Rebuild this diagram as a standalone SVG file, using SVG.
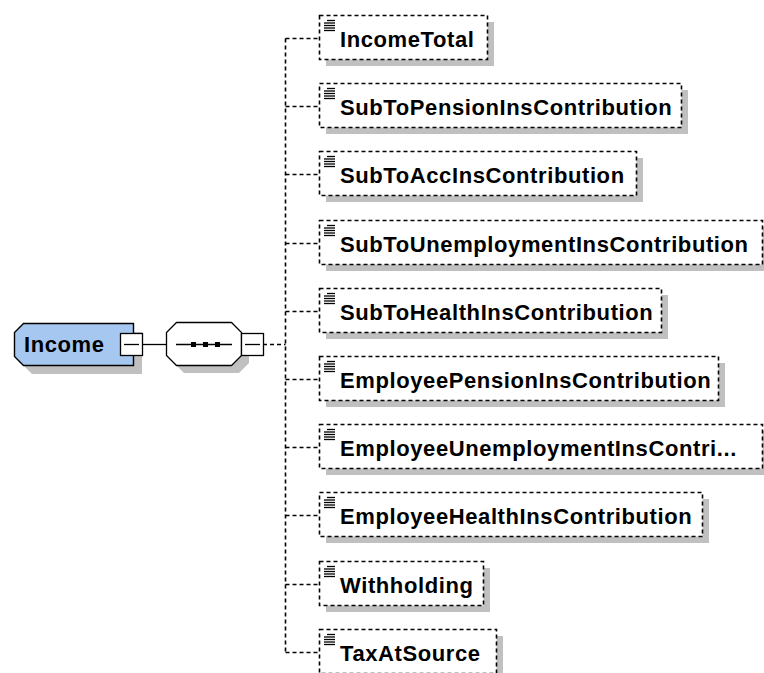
<svg xmlns="http://www.w3.org/2000/svg" width="764" height="673" viewBox="0 0 764 673">
<defs>
<style>
.t{font-family:"Liberation Sans",Arial,sans-serif;font-weight:bold;font-size:22px;letter-spacing:0.6px;fill:#000}
.box{fill:#fff;stroke:#000;stroke-width:1.6;stroke-dasharray:4 3}
.sh{fill:#c0c0c0}
.dash{fill:none;stroke:#000;stroke-width:1.6;stroke-dasharray:4 3}
.solid{fill:none;stroke:#000;stroke-width:1.3}
.ic{stroke:#000;stroke-width:1.3}
.mb{fill:#fff;stroke:#000;stroke-width:1.3}
</style>
<g id="icon">
<line class="ic" x1="327" y1="5.5" x2="335" y2="5.5"/>
<line class="ic" x1="324" y1="8" x2="335" y2="8"/>
<line class="ic" x1="324" y1="10.5" x2="335" y2="10.5"/>
<line class="ic" x1="324" y1="13" x2="335" y2="13"/>
<line class="ic" x1="324" y1="15.5" x2="335" y2="15.5"/>
</g>
</defs>
<rect width="764" height="673" fill="#fff"/>

<g id="connectors">
<line class="solid" x1="142" y1="344.5" x2="166" y2="344.5"/>
<line class="dash" x1="263" y1="344.5" x2="285.5" y2="344.5"/>
<line class="dash" x1="285.5" y1="38.5" x2="285.5" y2="652.5"/>
<line class="dash" x1="285.5" y1="38.5" x2="319" y2="38.5"/>
<line class="dash" x1="285.5" y1="106.5" x2="319" y2="106.5"/>
<line class="dash" x1="285.5" y1="174.5" x2="319" y2="174.5"/>
<line class="dash" x1="285.5" y1="243.5" x2="319" y2="243.5"/>
<line class="dash" x1="285.5" y1="311.5" x2="319" y2="311.5"/>
<line class="dash" x1="285.5" y1="379.5" x2="319" y2="379.5"/>
<line class="dash" x1="285.5" y1="447.5" x2="319" y2="447.5"/>
<line class="dash" x1="285.5" y1="515.5" x2="319" y2="515.5"/>
<line class="dash" x1="285.5" y1="584.5" x2="319" y2="584.5"/>
<line class="dash" x1="285.5" y1="652.5" x2="319" y2="652.5"/>
</g>

<g id="Income">
<polygon class="sh" points="32,332 142,332 142,374 32,374 23,365 23,341"/>
<polygon points="23.5,323.5 133.5,323.5 133.5,365.5 23.5,365.5 14.5,356.5 14.5,332.5" fill="#a6c8f0" stroke="#000" stroke-width="1.4"/>
<text class="t" x="24" y="352">Income</text>
<rect class="mb" x="120.5" y="333.5" width="22" height="22"/>
<line class="solid" x1="124" y1="344.5" x2="139" y2="344.5"/>
</g>

<g id="sequence">
<polygon class="sh" points="184,330 239,330 249,340 249,363 239,373 184,373 174,363 174,340"/>
<polygon points="176.5,322.5 231.5,322.5 241.5,332.5 241.5,355.5 231.5,365.5 176.5,365.5 166.5,355.5 166.5,332.5" fill="#fff" stroke="#000" stroke-width="1.3"/>
<line class="solid" x1="176" y1="344.5" x2="232" y2="344.5"/>
<rect x="191" y="342" width="5" height="5" fill="#000"/>
<rect x="203" y="342" width="5" height="5" fill="#000"/>
<rect x="215" y="342" width="5" height="5" fill="#000"/>
<rect class="mb" x="241.5" y="333.5" width="22" height="22"/>
<line class="solid" x1="245" y1="344.5" x2="260" y2="344.5"/>
</g>

<g id="IncomeTotal" transform="translate(0,15)">
<rect class="sh" x="326" y="7" width="168" height="44"/>
<rect class="box" x="319.5" y="0.5" width="168" height="44"/>
<use href="#icon"/>
<text class="t" x="340" y="32">IncomeTotal</text>
</g>
<g id="SubToPensionInsContribution" transform="translate(0,83)">
<rect class="sh" x="326" y="7" width="362" height="44"/>
<rect class="box" x="319.5" y="0.5" width="362" height="44"/>
<use href="#icon"/>
<text class="t" x="340" y="32">SubToPensionInsContribution</text>
</g>
<g id="SubToAccInsContribution" transform="translate(0,151)">
<rect class="sh" x="326" y="7" width="317" height="44"/>
<rect class="box" x="319.5" y="0.5" width="317" height="44"/>
<use href="#icon"/>
<text class="t" x="340" y="32">SubToAccInsContribution</text>
</g>
<g id="SubToUnemploymentInsContribution" transform="translate(0,220)">
<rect class="sh" x="326" y="7" width="443" height="44"/>
<rect class="box" x="319.5" y="0.5" width="443" height="44"/>
<use href="#icon"/>
<text class="t" x="340" y="32">SubToUnemploymentInsContribution</text>
</g>
<g id="SubToHealthInsContribution" transform="translate(0,288)">
<rect class="sh" x="326" y="7" width="342" height="44"/>
<rect class="box" x="319.5" y="0.5" width="342" height="44"/>
<use href="#icon"/>
<text class="t" x="340" y="32">SubToHealthInsContribution</text>
</g>
<g id="EmployeePensionInsContribution" transform="translate(0,356)">
<rect class="sh" x="326" y="7" width="399" height="44"/>
<rect class="box" x="319.5" y="0.5" width="399" height="44"/>
<use href="#icon"/>
<text class="t" x="340" y="32">EmployeePensionInsContribution</text>
</g>
<g id="EmployeeUnemploymentInsContribution" transform="translate(0,424)">
<rect class="sh" x="326" y="7" width="443" height="44"/>
<rect class="box" x="319.5" y="0.5" width="443" height="44"/>
<use href="#icon"/>
<text class="t" x="340" y="32">EmployeeUnemploymentInsContri...</text>
</g>
<g id="EmployeeHealthInsContribution" transform="translate(0,492)">
<rect class="sh" x="326" y="7" width="383" height="44"/>
<rect class="box" x="319.5" y="0.5" width="383" height="44"/>
<use href="#icon"/>
<text class="t" x="340" y="32">EmployeeHealthInsContribution</text>
</g>
<g id="Withholding" transform="translate(0,561)">
<rect class="sh" x="326" y="7" width="164" height="44"/>
<rect class="box" x="319.5" y="0.5" width="164" height="44"/>
<use href="#icon"/>
<text class="t" x="340" y="32">Withholding</text>
</g>
<g id="TaxAtSource" transform="translate(0,629)">
<rect class="sh" x="326" y="7" width="177" height="44"/>
<rect class="box" x="319.5" y="0.5" width="177" height="44"/>
<use href="#icon"/>
<text class="t" x="340" y="32">TaxAtSource</text>
</g>
</svg>
